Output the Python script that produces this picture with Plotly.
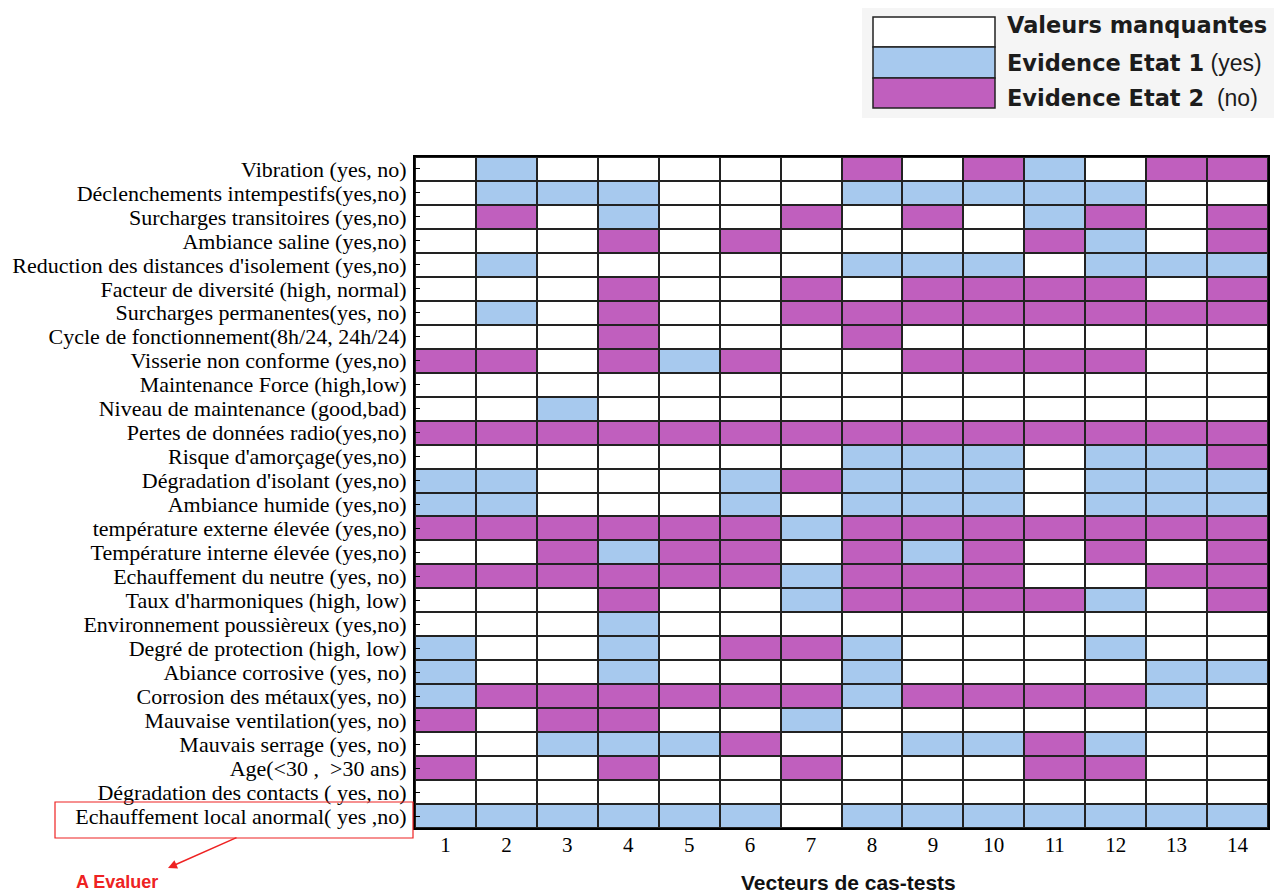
import plotly.graph_objects as go

# ---- data ----
row_labels = [
    "Vibration (yes, no)",
    "Déclenchements intempestifs(yes,no)",
    "Surcharges transitoires (yes,no)",
    "Ambiance saline (yes,no)",
    "Reduction des distances d'isolement (yes,no)",
    "Facteur de diversité (high, normal)",
    "Surcharges permanentes(yes, no)",
    "Cycle de fonctionnement(8h/24, 24h/24)",
    "Visserie non conforme (yes,no)",
    "Maintenance Force (high,low)",
    "Niveau de maintenance (good,bad)",
    "Pertes de données radio(yes,no)",
    "Risque d'amorçage(yes,no)",
    "Dégradation d'isolant (yes,no)",
    "Ambiance humide (yes,no)",
    "température externe élevée (yes,no)",
    "Température interne élevée (yes,no)",
    "Echauffement du neutre (yes, no)",
    "Taux d'harmoniques (high, low)",
    "Environnement poussièreux (yes,no)",
    "Degré de protection (high, low)",
    "Abiance corrosive (yes, no)",
    "Corrosion des métaux(yes, no)",
    "Mauvaise ventilation(yes, no)",
    "Mauvais serrage (yes, no)",
    "Age(<30 ,  >30 ans)",
    "Dégradation des contacts ( yes, no)",
    "Echauffement local anormal( yes ,no)",
]
test_vectors = list(range(1, 15))
# 0 = missing value, 1 = evidence state 1 (yes), 2 = evidence state 2 (no)
evidence = [
    [0, 1, 0, 0, 0, 0, 0, 2, 0, 2, 1, 0, 2, 2],
    [0, 1, 1, 1, 0, 0, 0, 1, 1, 1, 1, 1, 0, 0],
    [0, 2, 0, 1, 0, 0, 2, 0, 2, 0, 1, 2, 0, 2],
    [0, 0, 0, 2, 0, 2, 0, 0, 0, 0, 2, 1, 0, 2],
    [0, 1, 0, 0, 0, 0, 0, 1, 1, 1, 0, 1, 1, 1],
    [0, 0, 0, 2, 0, 0, 2, 0, 2, 2, 2, 2, 0, 2],
    [0, 1, 0, 2, 0, 0, 2, 2, 2, 2, 2, 2, 2, 2],
    [0, 0, 0, 2, 0, 0, 0, 2, 0, 0, 0, 0, 0, 0],
    [2, 2, 0, 2, 1, 2, 0, 0, 2, 2, 2, 2, 0, 0],
    [0, 0, 0, 0, 0, 0, 0, 0, 0, 0, 0, 0, 0, 0],
    [0, 0, 1, 0, 0, 0, 0, 0, 0, 0, 0, 0, 0, 0],
    [2, 2, 2, 2, 2, 2, 2, 2, 2, 2, 2, 2, 2, 2],
    [0, 0, 0, 0, 0, 0, 0, 1, 1, 1, 0, 1, 1, 2],
    [1, 1, 0, 0, 0, 1, 2, 1, 1, 1, 0, 1, 1, 1],
    [1, 1, 0, 0, 0, 1, 0, 1, 1, 1, 0, 1, 1, 1],
    [2, 2, 2, 2, 2, 2, 1, 2, 2, 2, 2, 2, 2, 2],
    [0, 0, 2, 1, 2, 2, 0, 2, 1, 2, 0, 2, 0, 2],
    [2, 2, 2, 2, 2, 2, 1, 2, 2, 2, 0, 0, 2, 2],
    [0, 0, 0, 2, 0, 0, 1, 2, 2, 2, 2, 1, 0, 2],
    [0, 0, 0, 1, 0, 0, 0, 0, 0, 0, 0, 0, 0, 0],
    [1, 0, 0, 1, 0, 2, 2, 1, 0, 0, 0, 1, 0, 0],
    [1, 0, 0, 1, 0, 0, 0, 1, 0, 0, 0, 0, 1, 1],
    [1, 2, 2, 2, 2, 2, 2, 1, 2, 2, 2, 2, 1, 0],
    [2, 0, 2, 2, 0, 0, 1, 0, 0, 0, 0, 0, 0, 0],
    [0, 0, 1, 1, 1, 2, 0, 0, 1, 1, 2, 1, 0, 0],
    [2, 0, 0, 2, 0, 0, 2, 0, 0, 0, 2, 2, 0, 0],
    [0, 0, 0, 0, 0, 0, 0, 0, 0, 0, 0, 0, 0, 0],
    [1, 1, 1, 1, 1, 1, 0, 1, 1, 1, 1, 1, 1, 1],
]
legend_bold = ["Valeurs manquantes", "Evidence Etat 1", "Evidence Etat 2"]
legend_extra = ["", " (yes)", "  (no)"]

# ---- style ----
WHITE = "#ffffff"
BLUE = "#a7c9ee"
PURPLE = "#c05fbe"
state_colors = [WHITE, BLUE, PURPLE]
OFF = 8                      # page body margin
W, H = 1282 - OFF, 895 - OFF
L, R, T, B = 415 - OFF, 14, 157 - OFF, 67
PW, PH = W - L - R, H - T - B


def px(x):  # reference-page pixel -> paper fraction
    return (x - OFF - L) / PW


def py(y):
    return (H - B - (y - OFF)) / PH


colorscale = [[0, WHITE], [1 / 3, WHITE], [1 / 3, BLUE], [2 / 3, BLUE],
              [2 / 3, PURPLE], [1, PURPLE]]

fig = go.Figure(go.Heatmap(
    z=evidence, x=test_vectors, y=row_labels,
    zmin=0, zmax=2, colorscale=colorscale, showscale=False,
    xgap=2, ygap=2, hoverinfo="skip",
))

serif = "Liberation Serif, Times New Roman, serif"
fig.update_layout(
    width=W, height=H,
    margin=dict(l=L, r=R, t=T, b=B, pad=0, autoexpand=False),
    paper_bgcolor="white", plot_bgcolor="#222222",
    xaxis=dict(tickmode="array", tickvals=test_vectors,
               ticktext=[str(v) for v in test_vectors],
               tickfont=dict(family=serif, size=21, color="black"),
               showgrid=False, zeroline=False, showline=True, mirror=True,
               linecolor="black", linewidth=2, ticks="", range=[0.5, 14.5],
               ticklabelstandoff=-3, automargin=False),
    yaxis=dict(autorange="reversed", tickmode="array", tickvals=row_labels,
               ticktext=row_labels,
               tickfont=dict(family=serif, size=22, color="black"),
               showgrid=False, zeroline=False, showline=True, mirror=True,
               linecolor="black", linewidth=2, ticks="inside", ticklen=5,
               tickcolor="black", ticklabelstandoff=2, automargin=False),
)

shapes = []
annotations = []
# legend background
shapes.append(dict(type="rect", xref="paper", yref="paper",
                   x0=px(862), x1=px(1290), y0=py(118), y1=py(0),
                   fillcolor="#f5f5f5", line=dict(width=0), layer="below"))
box_y = [17, 47, 78, 108]
text_y = [25, 63, 98]
for i in range(3):
    shapes.append(dict(type="rect", xref="paper", yref="paper",
                       x0=px(873), x1=px(995), y0=py(box_y[i + 1]), y1=py(box_y[i]),
                       fillcolor=state_colors[i], line=dict(color="#222222", width=1.5)))
    lab = "<b>" + legend_bold[i] + "</b>" + (
        "<span style='font-family:Liberation Sans Narrow, Arial; font-size:23px'>"
        + legend_extra[i] + "</span>" if legend_extra[i] else "")
    annotations.append(dict(xref="paper", yref="paper", x=px(1005), y=py(text_y[i]),
                            xanchor="left", yanchor="middle", showarrow=False,
                            text=lab, font=dict(family="DejaVu Sans", size=22.5,
                                                color="#1c1c1c")))
# red highlight box around the label to evaluate
shapes.append(dict(type="rect", xref="paper", yref="paper",
                   x0=px(55), x1=px(413), y0=py(838), y1=py(802),
                   line=dict(color="#ee2222", width=1.2), fillcolor="rgba(0,0,0,0)"))
annotations.append(dict(xref="paper", yref="paper", x=px(168), y=py(868),
                        ax=70, ay=-31, text="", showarrow=True, arrowhead=2,
                        arrowsize=1.2, arrowwidth=1.5, arrowcolor="#ee2222"))
annotations.append(dict(xref="paper", yref="paper", x=px(117), y=py(882),
                        xanchor="center", yanchor="middle", showarrow=False,
                        text="<b>A Evaluer</b>",
                        font=dict(family="Liberation Sans Narrow, Arial", size=18,
                                  color="#ee2222")))
annotations.append(dict(xref="paper", yref="paper", x=px(848), y=py(882),
                        xanchor="center", yanchor="middle", showarrow=False,
                        text="<b>Vecteurs de cas-tests</b>",
                        font=dict(family="Liberation Sans, Arial", size=21, color="#111111")))
fig.update_layout(shapes=shapes, annotations=annotations)

fig.write_html("out.html")
